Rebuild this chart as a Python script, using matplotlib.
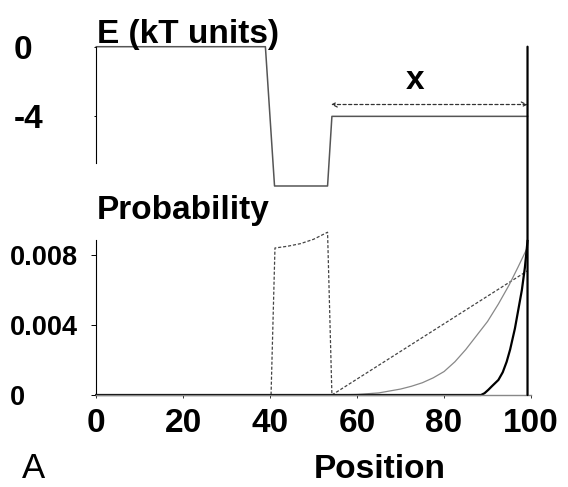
import matplotlib
matplotlib.use('Agg')
import matplotlib.pyplot as plt
from matplotlib.patches import ConnectionPatch

plt.rcParams['font.family'] = ['Liberation Sans', 'DejaVu Sans']

# ---------------- data ----------------
x_ticks = [0, 20, 40, 60, 80, 100]
x_tick_labels = ['0', '20', '40', '60', '80', '100']
e_ticks = [0, -4]
e_tick_labels = ['0', '-4']
p_ticks = [0, 0.004, 0.008]
p_tick_labels = ['0', '0.004', '0.008']

energy_x = [0, 38.9, 41.0, 53.2, 54.2, 99.2]
energy_e = [0, 0, -8, -8, -4, -4]

well_x = [0, 40.2, 41.1, 44, 47, 50, 53.2, 54.2, 99.2]
well_p = [0, 0, 0.0084, 0.0085, 0.00865, 0.0089, 0.0093, 0, 0.0071]

gray_x = [0, 54.2, 60, 65, 70, 72.5, 75, 77.5, 80, 82.5, 85, 87.5, 90, 92.5, 95, 97, 99.2]
gray_p = [0, 0, 0.00003, 0.00012, 0.00034, 0.0005, 0.0007, 0.00098, 0.00134, 0.0019,
          0.0026, 0.0034, 0.0042, 0.0052, 0.0063, 0.0073, 0.00844]

thick_x = [0, 88.5, 89.3, 90.2, 91.0, 92.5, 93.5, 94.4, 95.2, 96.3, 97.1, 97.9, 98.6, 99.2]
thick_p = [0, 0, 0.0001, 0.0003, 0.0005, 0.00086, 0.0013, 0.0019, 0.0026, 0.0038,
           0.0049, 0.0060, 0.0073, 0.0088]

wall_x = 99.2
span_x = [54.0, 99.2]
span_e = -3.32

# ---------------- layout ----------------
W, H, DPI = 568, 487, 100
fig = plt.figure(figsize=(W / DPI, H / DPI), dpi=DPI)


def box(left, top, right, bottom):
    return [left / W, 1 - bottom / H, (right - left) / W, (bottom - top) / H]


XL, XR = 96.3, 531.0
ax1 = fig.add_axes(box(XL, 38.0, XR, 194.7))
ax2 = fig.add_axes(box(XL, 225.25, XR, 395.0))
for ax in (ax1, ax2):
    ax.set_xlim(0, 100)
    ax.patch.set_alpha(0)
    ax.spines['top'].set_visible(False)
    ax.spines['right'].set_visible(False)

# ---- energy panel ----
ax1.set_ylim(-8.5, 0.5)
ax1.spines['bottom'].set_visible(False)
ax1.spines['left'].set_bounds(-6.7, 0)
ax1.spines['left'].set_linewidth(0.8)
ax1.set_xticks([])
ax1.set_yticks(e_ticks)
ax1.set_yticklabels(e_tick_labels)
ax1.tick_params(axis='y', length=1.8, width=0.7, pad=57.5, labelsize=24)
for lab in ax1.get_yticklabels():
    lab.set_ha('left')
    lab.set_fontweight('bold')
ax1.plot(energy_x, energy_e, color='#555555', lw=1.1, clip_on=False)
ax1.annotate('', xy=(span_x[0], span_e), xytext=(span_x[1], span_e),
             arrowprops=dict(arrowstyle='<->,head_length=0.35,head_width=0.18',
                             linestyle=(0, (2.5, 2.0)), color='#333333', lw=0.9,
                             shrinkA=0, shrinkB=0))

# ---- probability panel ----
ax2.set_ylim(0, 0.0097)
ax2.spines['left'].set_bounds(0, 0.00886)
ax2.spines['left'].set_linewidth(0.8)
ax2.spines['bottom'].set_color('#888888')
ax2.spines['bottom'].set_linewidth(1.0)
ax2.set_xticks(x_ticks)
ax2.set_xticklabels(x_tick_labels)
ax2.set_yticks(p_ticks)
ax2.set_yticklabels(p_tick_labels)
ax2.tick_params(axis='x', length=2.2, width=0.7, color='#333333', pad=7, labelsize=24)
ax2.tick_params(axis='y', length=3.6, width=0.7, pad=58.3, labelsize=19.5)
for lab in ax2.get_yticklabels():
    lab.set_ha('left')
    lab.set_fontweight('bold')
for lab in ax2.get_xticklabels():
    lab.set_fontweight('bold')

ax2.plot(well_x, well_p, color='#444444', lw=0.9, ls=(0, (2.5, 1.5)), clip_on=False)
ax2.plot(gray_x, gray_p, color='#888888', lw=0.9, clip_on=False)
ax2.plot(thick_x, thick_p, color='black', lw=1.6, clip_on=False)

wall = ConnectionPatch(xyA=(wall_x, 0), coordsA=ax1.transData,
                       xyB=(wall_x, 0), coordsB=ax2.transData,
                       color='black', lw=1.6)
fig.add_artist(wall)

# ---- texts ----
def ftext(px, py, s, **kw):
    fig.text(px / W, 1 - py / H, s, **kw)

ftext(97, 43.3, 'E (kT units)', ha='left', va='baseline', fontsize=24, fontweight='bold')
ftext(97, 219.3, 'Probability', ha='left', va='baseline', fontsize=24, fontweight='bold')
ftext(415, 89.3, 'x', ha='center', va='baseline', fontsize=24, fontweight='bold')
ftext(380, 478, 'Position', ha='center', va='baseline', fontsize=24, fontweight='bold')
ftext(22, 478, 'A', ha='left', va='baseline', fontsize=25)

fig.savefig('out.png', dpi=DPI)
